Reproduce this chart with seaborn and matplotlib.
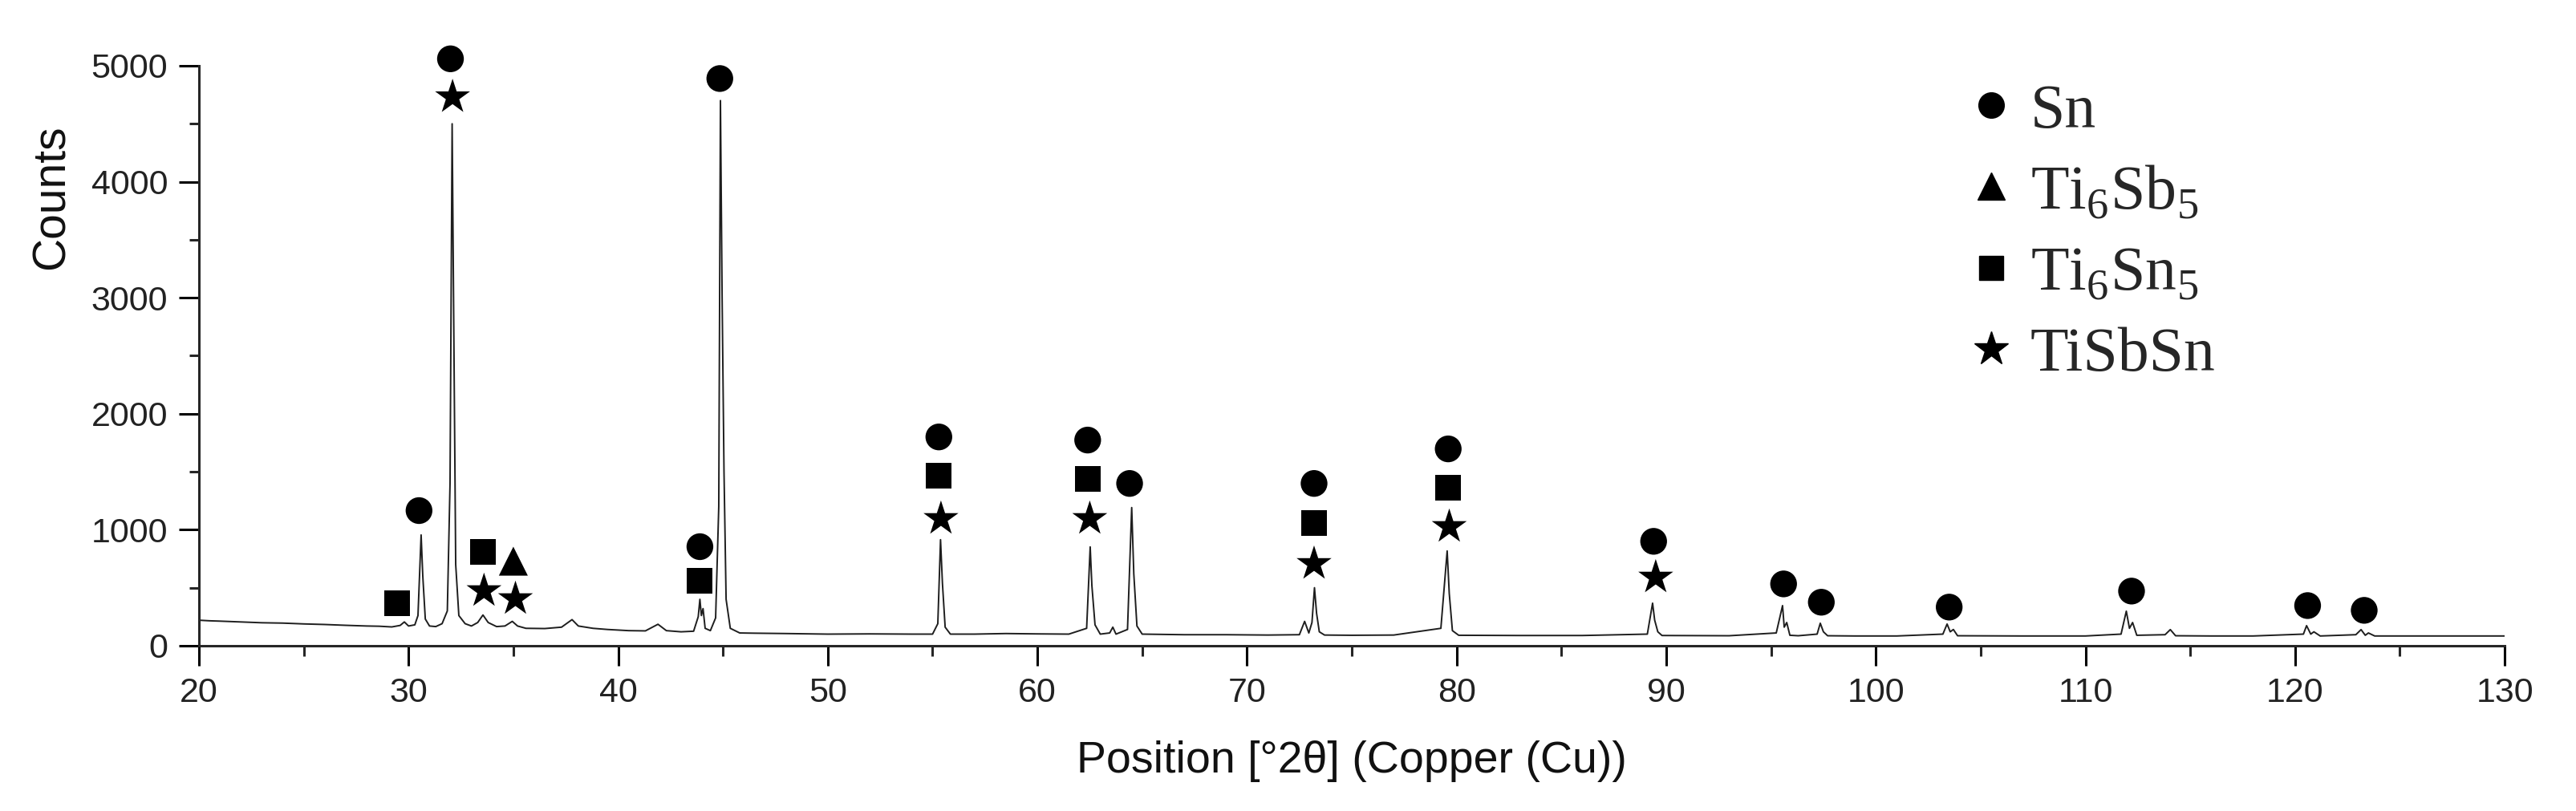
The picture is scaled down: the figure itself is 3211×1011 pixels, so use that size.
import seaborn as sns
import matplotlib.pyplot as plt
import numpy as np
import pandas as pd
from matplotlib.lines import Line2D
from matplotlib.ticker import MultipleLocator

# XRD trace, points
two_theta = [20.0, 20.5, 21.0, 22.0, 23.0, 24.0, 25.0, 26.0, 27.0, 28.0, 28.6, 29.2, 29.6, 29.8, 30.0,
             30.3, 30.45, 30.6, 30.68, 30.8, 31.0, 31.3, 31.6, 31.85, 31.98, 32.08, 32.16, 32.25, 32.4,
             32.7, 33.0, 33.3, 33.55, 33.8, 34.2, 34.6, 34.95, 35.2, 35.6, 36.5, 37.3, 37.8, 38.1, 38.8,
             39.5, 40.5, 41.3, 41.9, 42.3, 43.0, 43.6, 43.82, 43.9, 43.97, 44.05, 44.15, 44.4, 44.65,
             44.8, 44.88, 44.96, 45.05, 45.15, 45.35, 45.8, 46.5, 48.0, 50.0, 52.0, 54.0, 55.0, 55.25,
             55.38, 55.47, 55.6, 55.85, 57.0, 58.5, 60.0, 61.5, 62.35, 62.52, 62.6, 62.75, 63.0, 63.45,
             63.6, 63.75, 64.3, 64.5, 64.6, 64.75, 65.0, 67.0, 69.0, 71.0, 72.5, 72.75, 72.95, 73.1,
             73.22, 73.32, 73.45, 73.7, 75.0, 77.0, 79.25, 79.55, 79.65, 79.8, 80.1, 83.0, 86.0, 89.1,
             89.35, 89.45, 89.6, 89.8, 93.0, 95.25, 95.55, 95.63, 95.75, 95.9, 96.3, 97.2, 97.35, 97.5,
             97.7, 99.0, 101.0, 103.2, 103.4, 103.55, 103.7, 103.9, 107.0, 110.0, 111.7, 111.95, 112.1,
             112.25, 112.45, 113.8, 114.05, 114.3, 116.0, 118.0, 120.4, 120.55, 120.75, 120.9, 121.2,
             122.9, 123.15, 123.35, 123.5, 123.8, 126.0, 128.0, 130.0]
counts = [220, 215, 212, 205, 198, 195, 188, 183, 176, 170, 168, 162, 175, 205, 170,
          180, 260, 955, 600, 230, 170, 165, 190, 300, 1400, 4500, 2700, 700, 260,
          190, 170, 200, 265, 200, 165, 170, 210, 170, 150, 148, 160, 225, 170, 150,
          140, 130, 128, 185, 130, 120, 125, 250, 400, 260, 320, 150, 130, 240,
          1200, 4700, 3000, 1500, 400, 150, 110, 108, 105, 100, 102, 100, 100, 190,
          914, 540, 160, 100, 100, 105, 102, 100, 150, 852, 520, 180, 100, 110,
          160, 100, 140, 1191, 620, 170, 100, 95, 95, 92, 95, 210, 110, 200,
          500, 280, 120, 92, 90, 92, 150, 817, 450, 130, 90, 88, 88, 100,
          367, 220, 120, 88, 86, 110, 346, 160, 200, 90, 86, 100, 194, 120,
          86, 84, 84, 100, 187, 120, 140, 86, 84, 84, 100, 298, 150,
          200, 90, 95, 139, 86, 84, 84, 100, 173, 100, 120, 84,
          95, 139, 90, 110, 84, 84, 84, 84]

# phase markers
sn_x = [30.5, 32.0, 44.85, 43.9, 55.3, 62.4, 64.4, 73.2, 79.6, 89.4, 95.6, 97.4, 103.5, 112.2, 120.6, 123.3]
sn_y = [1165, 5060, 4890, 854, 1800, 1773, 1399, 1399, 1697, 900, 533, 375, 333, 471, 346, 305]
ti6sb5_x = [35.0]
ti6sb5_y = [729]
ti6sn5_x = [29.45, 33.55, 43.9, 55.3, 62.4, 73.2, 79.6]
ti6sn5_y = [368, 812, 561, 1468, 1440, 1060, 1364]
tisbsn_x = [32.1, 33.6, 35.1, 55.4, 62.5, 73.2, 79.65, 89.5]
tisbsn_y = [4730, 472, 403, 1094, 1094, 706, 1025, 589]

phases = ['Sn', 'Ti6Sb5', 'Ti6Sn5', 'TiSbSn']
phase_labels = ['Sn', r'Ti$_\mathregular{6}$Sb$_\mathregular{5}$',
                r'Ti$_\mathregular{6}$Sn$_\mathregular{5}$', 'TiSbSn']
marker_map = {'Sn': 'o', 'Ti6Sb5': '^', 'Ti6Sn5': 's', 'TiSbSn': '*'}
ms_map = {'Sn': 24, 'Ti6Sb5': 26, 'Ti6Sn5': 23, 'TiSbSn': 33}

trace = pd.DataFrame({'two_theta': two_theta, 'counts': counts})
marks = pd.concat([
    pd.DataFrame({'two_theta': sn_x, 'counts': sn_y, 'phase': 'Sn'}),
    pd.DataFrame({'two_theta': ti6sb5_x, 'counts': ti6sb5_y, 'phase': 'Ti6Sb5'}),
    pd.DataFrame({'two_theta': ti6sn5_x, 'counts': ti6sn5_y, 'phase': 'Ti6Sn5'}),
    pd.DataFrame({'two_theta': tisbsn_x, 'counts': tisbsn_y, 'phase': 'TiSbSn'}),
], ignore_index=True)

sns.set_style('ticks')
plt.rcParams['font.family'] = ['Liberation Sans', 'DejaVu Sans']
plt.rcParams['mathtext.fontset'] = 'custom'
plt.rcParams['mathtext.rm'] = 'Liberation Serif'

fig = plt.figure(figsize=(32.12, 10.11), dpi=100)
ax = fig.add_axes([0.0772, 0.2038, 0.8948, 0.7151])

sns.lineplot(data=trace, x='two_theta', y='counts', ax=ax, color='#1e1e1e', lw=1.4, zorder=2)
sns.scatterplot(data=marks, x='two_theta', y='counts', style='phase', markers=marker_map,
                size='phase', sizes={k: v ** 2 for k, v in ms_map.items()},
                color='black', linewidth=0, legend=False, ax=ax, clip_on=False, zorder=3)

ax.set_xlim(20, 130)
ax.set_ylim(0, 5000)
ax.xaxis.set_major_locator(MultipleLocator(10))
ax.xaxis.set_minor_locator(MultipleLocator(5))
ax.yaxis.set_major_locator(MultipleLocator(1000))
ax.yaxis.set_minor_locator(MultipleLocator(500))
sns.despine(ax=ax)
for side in ['left', 'bottom']:
    ax.spines[side].set_linewidth(2.2)
ax.tick_params(which='major', length=18, width=2.2, labelsize=31, colors='black', pad=10)
ax.tick_params(which='minor', length=9, width=2.2)
for lab in ax.get_xticklabels() + ax.get_yticklabels():
    lab.set_color('#222222')

ax.set_xlabel('Position [°2θ] (Copper (Cu))', fontsize=40, labelpad=28, color='#111111')
ax.set_ylabel('Counts', fontsize=41, color='#111111')
ax.yaxis.set_label_coords(-0.0545, 0.773)

handles = [Line2D([], [], ls='none', marker=marker_map[p], color='black', ms=ms_map[p] * 0.95) for p in phases]
ax.legend(handles, phase_labels, loc='upper left', bbox_to_anchor=(0.7656, 0.897),
          bbox_transform=fig.transFigure, frameon=False, prop={'family': 'Liberation Serif', 'size': 56},
          handlelength=0.6, handletextpad=0.32, labelspacing=0.38, borderpad=0, borderaxespad=0)

fig.savefig('out.png', dpi=100)
